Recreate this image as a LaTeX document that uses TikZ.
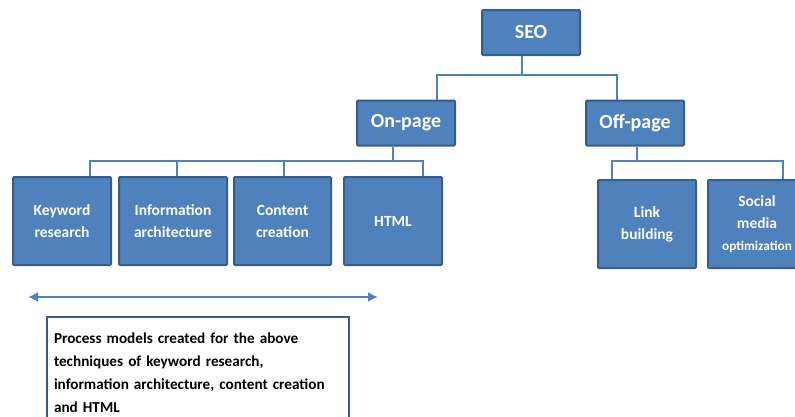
\documentclass[tikz,border=0pt]{standalone}
\usepackage{fontspec}
\setmainfont{Carlito}
\usepackage{tikz}
\usetikzlibrary{arrows.meta,calc}
\definecolor{seoblue}{RGB}{79,129,189}
\definecolor{seoedge}{RGB}{56,93,138}
\tikzset{topbox/.style={rectangle, rounded corners=1pt, draw=seoedge, line width=2pt, fill=seoblue, text=white, align=center, inner sep=0pt, minimum width=98pt, minimum height=45pt, font=\fontsize{20}{22}\selectfont\bfseries}, leafbox/.style={rectangle, rounded corners=1pt, draw=seoedge, line width=2pt, fill=seoblue, text=white, align=center, inner sep=0pt, minimum width=98pt, minimum height=88pt, font=\fontsize{15.5}{22}\selectfont\bfseries}, link/.style={draw=seoblue, line width=2pt}, spanarrow/.style={{Latex[length=10pt,width=10pt]}-{Latex[length=10pt,width=10pt]}, draw=seoblue, line width=2.5pt}, notebox/.style={rectangle, draw=seoedge, line width=2pt, fill=white, anchor=north west, align=left, inner xsep=7pt, inner ysep=16pt, text width=288pt, font=\fontsize{15.2}{23}\selectfont\bfseries}}

\begin{document}
\begin{tikzpicture}[x=1pt,y=-1pt]
\useasboundingbox (0,0) rectangle (795,416);
% top levels
\node[topbox] (seo) at (531,32.5) {SEO};
\node[topbox] (onpage) at (406,123) {On-page};
\node[topbox] (offpage) at (635,123) {Off-page};
% on-page techniques
\node[leafbox] (keyword) at (62,221) {Keyword\\research};
\node[leafbox, minimum width=108pt] (infoarch) at (173,221) {Information\\architecture};
\node[leafbox, minimum width=97pt] (content) at (282.5,221) {Content\\creation};
\node[leafbox] (html) at (393,221) {HTML};
% off-page techniques
\node[leafbox] (linkbuild) at (647,224) {Link\\building};
\node[leafbox] (social) at (757,224) {Social\\media\\{\fontsize{13.3}{22}\selectfont optimization}};
% connectors
\draw[link] ([xshift=-9pt]seo.south) -- ++(0,19) coordinate (seobus);
\draw[link] (seobus) -| ([xshift=31pt]onpage.north);
\draw[link] (seobus) -| ([xshift=-18pt]offpage.north);
\draw[link] ([xshift=-13pt]onpage.south) -- ++(0,14) coordinate (onbus);
\draw[link] (onbus) -| ([xshift=28pt]keyword.north);
\draw[link] (onbus) -| ([xshift=4pt]infoarch.north);
\draw[link] (onbus) -| ([xshift=1.5pt]content.north);
\draw[link] (onbus) -| ([xshift=30pt]html.north);
\draw[link] ([xshift=2pt]offpage.south) -- ++(0,14) coordinate (offbus);
\draw[link] (offbus) -| ([xshift=-35pt]linkbuild.north);
\draw[link] (offbus) -| ([xshift=26pt]social.north);
% span of the process models
\coordinate (spanleft) at (28,297);
\coordinate (spanright) at (378,297);
\draw[spanarrow] (spanleft) -- (spanright);
\node[notebox] (note) at (46,316) {Process models created for the above\\techniques of keyword research,\\information architecture, content creation\\and HTML};
\end{tikzpicture}
\end{document}
